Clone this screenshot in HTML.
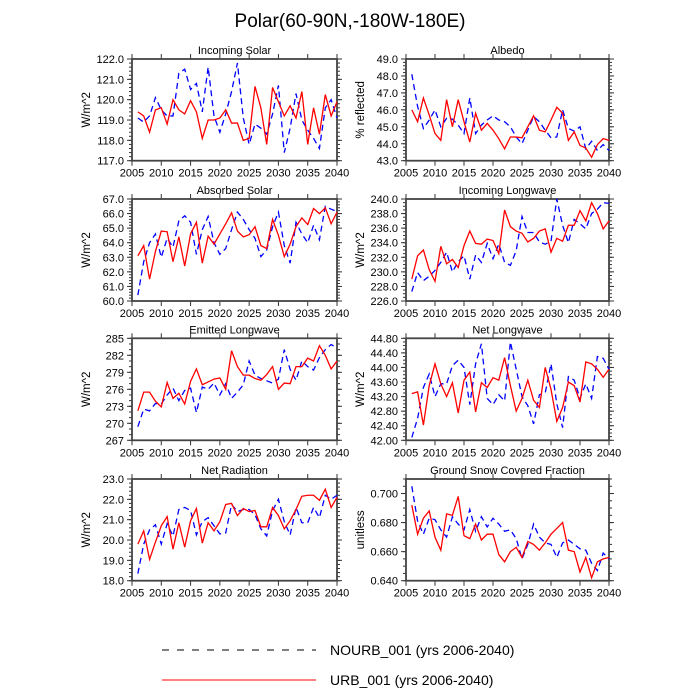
<!DOCTYPE html>
<html><head><meta charset="utf-8"><style>
html,body{margin:0;padding:0;background:#fff;}
svg{display:block;font-family:"Liberation Sans",Arial,sans-serif;}
</style></head><body>
<svg id="chart" width="700" height="700" viewBox="0 0 700 700" xmlns="http://www.w3.org/2000/svg">
<text x="350" y="27" text-anchor="middle" font-size="19">Polar(60-90N,-180W-180E)</text>
<g id="panels"></g>
<g>
<line x1="162" y1="650" x2="316" y2="650" stroke="#000" stroke-width="1" stroke-dasharray="7,8"/>
<text x="330" y="655" font-size="14">NOURB_001 (yrs 2006-2040)</text>
<line x1="162" y1="680" x2="316" y2="680" stroke="#ff0000" stroke-width="1"/>
<text x="330" y="685" font-size="14">URB_001 (yrs 2006-2040)</text>
</g>
</svg>
<script>
const years = [2006,2007,2008,2009,2010,2011,2012,2013,2014,2015,2016,2017,2018,2019,2020,2021,2022,2023,2024,2025,2026,2027,2028,2029,2030,2031,2032,2033,2034,2035,2036,2037,2038,2039,2040];
const xTicks = [2005,2010,2015,2020,2025,2030,2035,2040];

const solarUrb = [119.4,119.2,118.4,119.5,119.6,118.8,120.0,119.5,119.3,119.95,119.4,118.1,119.0,119.0,119.1,119.5,118.85,118.85,118.0,118.1,120.65,119.6,117.8,120.6,119.9,119.2,119.7,119.1,120.4,117.8,119.6,118.3,120.25,119.2,119.9];
const solarNourb = [119.1,118.9,119.2,120.1,119.5,119.2,119.2,121.3,121.5,120.5,120.8,119.4,121.6,119.2,118.4,119.3,120.4,121.8,119.1,117.8,118.8,118.6,118.3,119.3,120.7,117.4,118.6,120.3,119.0,118.5,118.1,117.6,119.6,120.0,119.1];
const solarTicks = ["117.0","118.0","119.0","120.0","121.0","122.0"];

const albedoUrb = [46.0,45.3,46.7,45.7,44.6,44.2,46.6,45.0,46.6,45.3,44.1,45.8,44.8,45.2,44.8,44.3,43.7,44.4,44.4,44.35,45.0,45.65,44.8,44.7,45.4,46.15,45.8,44.2,44.7,43.9,43.75,43.2,43.95,44.3,44.2];
const albedoNourb = [48.1,46.2,44.9,45.4,46.0,45.0,45.5,45.45,45.1,44.6,46.7,44.6,45.1,45.4,45.65,45.4,45.3,45.0,44.4,44.0,44.8,45.6,45.3,44.8,44.35,44.4,46.0,44.9,44.75,45.0,43.7,44.15,43.6,43.95,43.6];
const albedoTicks = ["43.0","44.0","45.0","46.0","47.0","48.0","49.0"];

const absUrb = [63.1,63.8,61.5,63.4,64.8,64.75,62.7,64.4,62.4,64.6,65.4,62.6,64.45,63.9,64.6,65.3,66.05,64.8,64.4,64.55,65.1,63.8,63.6,65.6,64.5,63.05,63.9,65.1,65.7,65.25,66.35,66.0,66.4,65.3,66.1];
const absNourb = [60.4,62.7,64.0,64.6,63.0,64.3,63.7,65.5,65.85,65.4,63.2,64.9,65.8,64.0,63.2,63.6,64.9,66.1,65.6,64.9,64.3,63.05,63.5,65.1,66.1,63.8,62.6,65.4,64.6,64.0,65.2,64.2,66.5,66.3,66.15];
const absTicks = ["60.0","61.0","62.0","63.0","64.0","65.0","66.0","67.0"];

const ilwUrb = [229.0,232.2,233.0,230.3,228.7,233.5,231.1,231.7,230.6,233.6,235.6,233.9,233.8,234.5,234.3,232.5,238.5,236.2,235.6,235.3,234.1,234.6,235.6,235.9,232.7,234.6,234.2,236.4,236.4,238.4,237.0,239.5,238.0,235.9,237.0];
const ilwNourb = [227.3,229.9,228.8,229.4,230.2,231.3,232.7,230.0,231.4,232.2,229.0,232.3,231.3,233.9,231.8,233.8,231.3,230.9,232.9,237.6,235.4,235.4,234.1,233.8,234.2,240.0,236.4,234.0,237.2,236.6,235.9,238.0,238.6,239.5,239.4];
const ilwTicks = ["226.0","228.0","230.0","232.0","234.0","236.0","238.0","240.0"];

const elwUrb = [272.2,275.5,275.5,273.9,272.9,277.2,274.4,275.3,273.4,277.4,279.6,276.8,277.3,277.8,278.0,276.0,282.8,280.0,278.5,278.5,277.9,277.6,278.6,280.0,276.0,277.1,277.0,280.0,280.0,281.5,281.0,283.7,282.0,279.6,281.0];
const elwNourb = [269.4,272.5,272.2,273.5,273.4,275.0,276.2,274.0,275.8,276.2,271.9,276.4,276.0,277.1,275.0,277.0,274.4,275.5,276.8,281.0,278.5,277.9,277.5,277.1,277.8,283.0,279.5,277.6,281.0,280.0,279.4,281.6,283.0,283.9,283.3];
const elwTicks = ["267","270","273","276","279","282","285"];

const nlwUrb = [43.28,43.33,42.42,43.5,44.1,43.55,43.2,43.58,42.75,43.65,43.87,42.78,43.58,43.45,43.72,43.65,44.27,43.5,42.8,43.15,43.65,43.1,42.9,44.0,43.4,42.52,42.9,43.6,43.5,43.05,44.15,44.1,43.95,43.73,43.95];
const nlwNourb = [42.08,42.6,43.45,43.82,43.2,43.55,43.55,44.05,44.2,44.0,42.98,44.1,44.65,43.15,42.98,43.25,43.08,44.7,43.95,43.2,42.95,42.45,43.25,43.3,44.1,43.0,42.35,43.75,43.65,43.15,43.55,43.15,44.3,44.25,43.95];
const nlwTicks = ["42.00","42.40","42.80","43.20","43.60","44.00","44.40","44.80"];

const netUrb = [19.8,20.45,19.05,19.9,20.7,21.15,19.55,20.85,19.65,20.95,21.55,19.85,20.85,20.45,20.9,21.75,21.8,21.2,21.55,21.4,21.45,20.65,20.65,21.6,21.2,20.55,20.95,21.5,22.15,22.2,22.2,21.95,22.5,21.6,22.1];
const netNourb = [18.35,19.8,20.5,20.75,19.8,20.8,20.2,21.5,21.6,21.45,20.25,20.9,21.1,20.7,20.3,20.35,21.75,21.4,21.5,21.5,21.25,20.55,20.2,21.45,22.0,20.9,20.25,21.6,20.85,20.85,21.6,21.1,22.2,22.0,22.2];
const netTicks = ["18.0","19.0","20.0","21.0","22.0","23.0"];

const snowUrb = [0.692,0.672,0.683,0.688,0.670,0.661,0.686,0.685,0.698,0.671,0.669,0.679,0.668,0.672,0.672,0.658,0.653,0.660,0.663,0.656,0.667,0.665,0.661,0.666,0.672,0.676,0.680,0.661,0.660,0.646,0.656,0.642,0.653,0.655,0.656];
const snowNourb = [0.705,0.681,0.672,0.683,0.682,0.675,0.670,0.684,0.679,0.675,0.689,0.674,0.684,0.677,0.683,0.679,0.674,0.675,0.669,0.655,0.665,0.679,0.670,0.666,0.665,0.656,0.666,0.668,0.665,0.662,0.661,0.652,0.647,0.659,0.655];
const snowTicks = ["0.640","0.660","0.680","0.700"];

const NS = "http://www.w3.org/2000/svg";
const root = document.getElementById('panels');
function mk(tag, attrs, parent){const e=document.createElementNS(NS,tag);for(const k in attrs)e.setAttribute(k,attrs[k]);parent.appendChild(e);return e;}

function panel(name, title, ylabel, L, R, T, B, ymin, ymax, ticks, minorPer, urb, nourb){
  const g = mk('g',{},root);
  
  
  const xs = v => L + (v-2005)/(2040-2005)*(R-L);
  const ys = v => B - (v-ymin)/(ymax-ymin)*(B-T);
  const t = mk('text',{x:(L+R)/2,y:T-5,'text-anchor':'middle','font-size':11},g); t.textContent=title;
  
  
  const yl = mk('text',{x:0,y:0,'text-anchor':'middle','font-size':11.5,transform:`translate(${L-42},${(T+B)/2}) rotate(-90)`},g); yl.textContent=ylabel;
  
  
  const ax = mk('g',{stroke:'#333','stroke-width':1},g);
  xTicks.forEach(v=>{
    const x=xs(v);
    mk('line',{x1:x,y1:B,x2:x,y2:B+5},ax); mk('line',{x1:x,y1:T,x2:x,y2:T-5},ax);
    const tl=mk('text',{x:x,y:B+16,'text-anchor':'middle','font-size':11},g); tl.textContent=v;
    
    
  });
  const yTickVals = ticks.map(Number);
  const step = yTickVals[1]-yTickVals[0];
  yTickVals.forEach((v,i)=>{
    const y=ys(v);
    mk('line',{x1:L-5,y1:y,x2:L,y2:y},ax); mk('line',{x1:R,y1:y,x2:R+5,y2:y},ax);
    const tl=mk('text',{x:L-8,y:y+4,'text-anchor':'end','font-size':11},g); tl.textContent=ticks[i];
    
    
  });
  for(let v=ymin; v<=ymax+1e-9; v+=step/minorPer){
    const y=ys(v);
    mk('line',{x1:L-3,y1:y,x2:L,y2:y},ax); mk('line',{x1:R,y1:y,x2:R+3,y2:y},ax);
  }
  const fr = mk('rect',{x:L,y:T,width:R-L,height:B-T,fill:'none',stroke:'#444','stroke-width':1.8},g);
  
  
  const pn = mk('polyline',{points:years.map((yr,i)=>xs(yr)+','+ys(nourb[i])).join(' '),fill:'none',stroke:'#0000ff','stroke-width':1.3,'stroke-dasharray':'6,4'},g);
  
  
  const pu = mk('polyline',{points:years.map((yr,i)=>xs(yr)+','+ys(urb[i])).join(' '),fill:'none',stroke:'#ff0000','stroke-width':1.3},g);
  
  
}
const LL=132, LR=337, RL=406, RR=609;
panel('incoming-solar','Incoming Solar','W/m^2',LL,LR,59,160.7,117,122,solarTicks,5,solarUrb,solarNourb);
panel('albedo','Albedo','% reflected',RL,RR,59,160.7,43,49,albedoTicks,5,albedoUrb,albedoNourb);
panel('absorbed-solar','Absorbed Solar','W/m^2',LL,LR,199,301,60,67,absTicks,5,absUrb,absNourb);
panel('incoming-longwave','Incoming Longwave','W/m^2',RL,RR,199,301,226,240,ilwTicks,4,ilwUrb,ilwNourb);
panel('emitted-longwave','Emitted Longwave','W/m^2',LL,LR,338.3,440.3,267,285,elwTicks,3,elwUrb,elwNourb);
panel('net-longwave','Net Longwave','W/m^2',RL,RR,338.3,440.3,42,44.8,nlwTicks,4,nlwUrb,nlwNourb);
panel('net-radiation','Net Radiation','W/m^2',LL,LR,479,580.7,18,23,netTicks,5,netUrb,netNourb);
panel('snow-fraction','Ground Snow Covered Fraction','unitless',RL,RR,479,580.7,0.64,0.71,snowTicks,4,snowUrb,snowNourb);
</script>
</body></html>
